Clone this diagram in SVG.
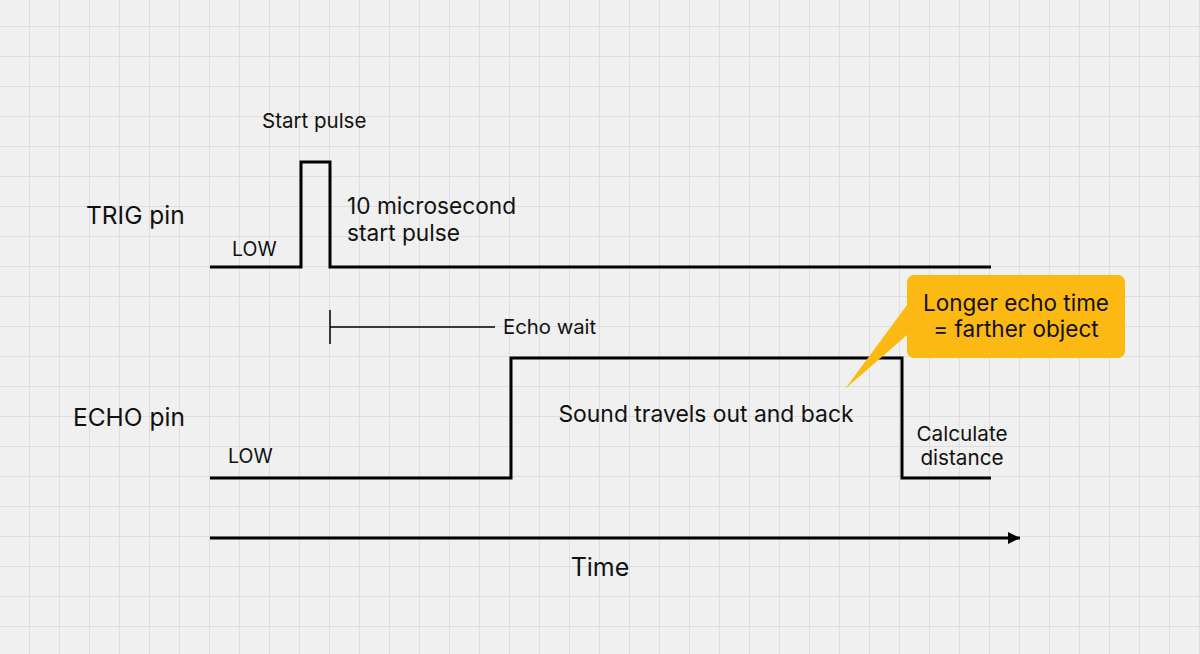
<svg xmlns="http://www.w3.org/2000/svg" width="1200" height="654" viewBox="0 0 1200 654">
<defs>
<pattern id="grid" x="0" y="-3" width="30" height="30" patternUnits="userSpaceOnUse">
<path d="M30 0 V30 M0 30 H30" fill="none" stroke="#d9d9d9" stroke-width="1.5"/>
</pattern>
<marker id="arrow" markerWidth="12" markerHeight="12" refX="12" refY="6" orient="auto" markerUnits="userSpaceOnUse">
<path d="M0 0 L12 6 L0 12 Z" fill="#000"/>
</marker>
</defs>
<style>
text{font-family:Inter,"Noto Sans","Liberation Sans",sans-serif;fill:#111}
.sig{fill:none;stroke:#000;stroke-width:3;stroke-linejoin:miter}
.thin{fill:none;stroke:#000;stroke-width:1.5}
</style>
<rect width="1200" height="654" fill="#f0f0f0"/>
<rect width="1200" height="654" fill="url(#grid)"/>
<g id="labels">
<text x="86" y="224" font-size="24.5">TRIG pin</text>
<text x="73" y="426" font-size="24.5">ECHO pin</text>
<text x="262" y="128" font-size="20.5">Start pulse</text>
<text x="232" y="256" font-size="19.5">LOW</text>
<text x="228" y="463" font-size="19.5">LOW</text>
<text x="347" y="214" font-size="22.7">10 microsecond</text>
<text x="347" y="241" font-size="22.7">start pulse</text>
<text x="503" y="334" font-size="20.3">Echo wait</text>
<text x="706" y="422" font-size="22.9" text-anchor="middle">Sound travels out and back</text>
<text x="962" y="441" font-size="20.7" text-anchor="middle">Calculate</text>
<text x="962" y="465" font-size="20.7" text-anchor="middle">distance</text>
<text x="600" y="576" font-size="25" text-anchor="middle">Time</text>
</g>
<g id="connectors">
<path id="trig" class="sig" d="M210 267 H301 V162 H330 V267 H991"/>
<path id="echo" class="sig" d="M210 478 H511 V358 H902 V478 H991"/>
<path id="echo-wait" class="thin" d="M330 310 V344 M330 327 H495"/>
<path id="time-axis" fill="none" stroke="#000" stroke-width="3" d="M210 538 H1020" marker-end="url(#arrow)"/>
</g>
<g id="callout">
<path d="M907 305 L845 389 L907 335 Z" fill="#fdb913"/>
<rect x="907" y="275" width="218" height="83" rx="7" fill="#fdb913"/>
<text x="1016" y="311" font-size="22.5" text-anchor="middle">Longer echo time</text>
<text x="1016" y="337" font-size="22.5" text-anchor="middle">= farther object</text>
</g>
</svg>
